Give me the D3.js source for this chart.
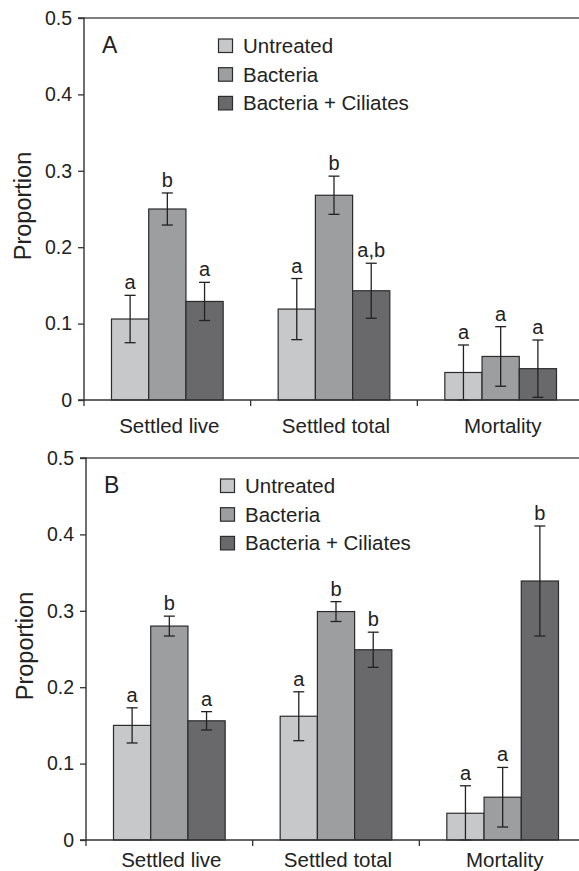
<!DOCTYPE html>
<html>
<head>
<meta charset="utf-8">
<script src="https://cdn.jsdelivr.net/npm/d3@7"></script>
<style>
  html, body { margin: 0; padding: 0; background: #fff; }
  svg { display: block; font-family: "Liberation Sans", Arial, Helvetica, sans-serif; }
</style>
</head>
<body>
<svg id="chart" width="579" height="871"></svg>
<script>
// ---- Data ----
const categories = ["Settled live", "Settled total", "Mortality"];
const treatments = ["Untreated", "Bacteria", "Bacteria + Ciliates"];
const yTicks = [0, 0.1, 0.2, 0.3, 0.4, 0.5];
const yTickLabels = ["0", "0.1", "0.2", "0.3", "0.4", "0.5"];

// Panel A
const untreatedA = [0.106, 0.119, 0.036];
const bacteriaA  = [0.250, 0.268, 0.057];
const ciliatesA  = [0.129, 0.143, 0.041];
const untreatedErrA = [0.031, 0.040, 0.036];
const bacteriaErrA  = [0.021, 0.025, 0.039];
const ciliatesErrA  = [0.025, 0.036, 0.0375];
const untreatedLetA = ["a", "a", "a"];
const bacteriaLetA  = ["b", "b", "a"];
const ciliatesLetA  = ["a", "a,b", "a"];

// Panel B
const untreatedB = [0.150, 0.162, 0.035];
const bacteriaB  = [0.280, 0.299, 0.056];
const ciliatesB  = [0.156, 0.249, 0.339];
const untreatedErrB = [0.023, 0.032, 0.036];
const bacteriaErrB  = [0.013, 0.013, 0.039];
const ciliatesErrB  = [0.012, 0.023, 0.072];
const untreatedLetB = ["a", "a", "a"];
const bacteriaLetB  = ["b", "b", "a"];
const ciliatesLetB  = ["a", "b", "b"];

const colors = ["#c7c8ca", "#9d9ea0", "#69696b"];

// ---- Drawing ----
const svg = d3.select("#chart");
const W = 579;

function panel(opts) {
  const { label, left, top, zero, means, errs, lets, catBaseline } = opts;
  const g = svg.append("g");
  const x = d3.scaleBand().domain(categories).range([left, left + 500])
    .paddingInner(0.33).paddingOuter(0.165);
  const x1 = d3.scaleBand().domain(treatments).range([0, x.bandwidth()]);
  const y = d3.scaleLinear().domain([0, 0.5]).range([zero, top]);
  const axisColor = "#333";

  // top frame line
  g.append("line").attr("x1", left).attr("x2", W).attr("y1", y(0.5)).attr("y2", y(0.5))
    .attr("stroke", "#555").attr("stroke-width", 1.4);

  // bars
  treatments.forEach((t, ti) => {
    categories.forEach((c, ci) => {
      const v = means[ti][ci];
      g.append("rect")
        .attr("x", x(c) + x1(t))
        .attr("y", y(v))
        .attr("width", x1.bandwidth())
        .attr("height", y(0) - y(v))
        .attr("fill", colors[ti])
        .attr("stroke", "#2b2b2b")
        .attr("stroke-width", 1.2);
    });
  });

  // error bars and letters
  treatments.forEach((t, ti) => {
    categories.forEach((c, ci) => {
      const v = means[ti][ci], e = errs[ti][ci];
      const cx = x(c) + x1(t) + x1.bandwidth() / 2;
      const hi = y(v + e), lo = y(Math.max(0, v - e));
      g.append("line").attr("x1", cx).attr("x2", cx).attr("y1", hi).attr("y2", lo)
        .attr("stroke", "#222").attr("stroke-width", 1.3);
      [hi, lo].forEach(yy => {
        g.append("line").attr("x1", cx - 5.5).attr("x2", cx + 5.5).attr("y1", yy).attr("y2", yy)
          .attr("stroke", "#222").attr("stroke-width", 1.3);
      });
      g.append("text").attr("x", cx).attr("y", hi - 6)
        .attr("text-anchor", "middle").attr("font-size", 20).attr("fill", "#222")
        .text(lets[ti][ci]);
    });
  });

  // bottom axis
  g.append("line").attr("x1", left).attr("x2", W).attr("y1", y(0)).attr("y2", y(0))
    .attr("stroke", axisColor).attr("stroke-width", 1.4);
  const step = x.step();
  [0, 1, 2, 3].forEach(i => {
    const xx = left + i * step;
    g.append("line").attr("x1", xx).attr("x2", xx).attr("y1", y(0)).attr("y2", y(0) + 6)
      .attr("stroke", axisColor).attr("stroke-width", 1.3);
  });
  categories.forEach(c => {
    g.append("text").attr("x", x(c) + x.bandwidth() / 2 + 2).attr("y", catBaseline)
      .attr("text-anchor", "middle").attr("font-size", 20.5).attr("fill", "#222").text(c);
  });

  // left axis
  const ax = d3.axisLeft(y).tickValues(yTicks).tickSize(6).tickPadding(6)
    .tickFormat((d, i) => yTickLabels[i]);
  const axG = g.append("g").attr("transform", `translate(${left},0)`).call(ax);
  axG.select(".domain").attr("stroke", axisColor).attr("stroke-width", 1.4)
    .attr("d", `M-6,${y(0.5)}H0V${y(0)}H-6`);
  axG.selectAll(".tick line").attr("stroke", axisColor).attr("stroke-width", 1.3);
  axG.selectAll(".tick text").attr("font-size", 19.5).attr("fill", "#222")
    .attr("font-family", "Liberation Sans, Arial, sans-serif");

  // y label
  g.append("text").attr("transform", `translate(${left - 53},${(y(0) + y(0.5)) / 2 - 3}) rotate(-90)`)
    .attr("text-anchor", "middle").attr("font-size", 23.5).attr("fill", "#222").text("Proportion");

  // panel letter
  g.append("text").attr("x", left + 18).attr("y", top + 35)
    .attr("font-size", 23).attr("fill", "#222").text(label);

  // legend
  treatments.forEach((t, ti) => {
    const ly = top + 21 + ti * 28.7;
    g.append("rect").attr("x", left + 134.5).attr("y", ly).attr("width", 14).attr("height", 13.5)
      .attr("fill", colors[ti]).attr("stroke", "#2b2b2b").attr("stroke-width", 1.2);
    g.append("text").attr("x", left + 159).attr("y", ly + 14)
      .attr("font-size", 20.5).attr("fill", "#222").text(t);
  });
}

panel({
  label: "A", left: 84, top: 18, zero: 400,
  means: [untreatedA, bacteriaA, ciliatesA],
  errs: [untreatedErrA, bacteriaErrA, ciliatesErrA],
  lets: [untreatedLetA, bacteriaLetA, ciliatesLetA],
  catBaseline: 432.5
});
panel({
  label: "B", left: 86, top: 458, zero: 840,
  means: [untreatedB, bacteriaB, ciliatesB],
  errs: [untreatedErrB, bacteriaErrB, ciliatesErrB],
  lets: [untreatedLetB, bacteriaLetB, ciliatesLetB],
  catBaseline: 866.5
});
</script>
</body>
</html>
